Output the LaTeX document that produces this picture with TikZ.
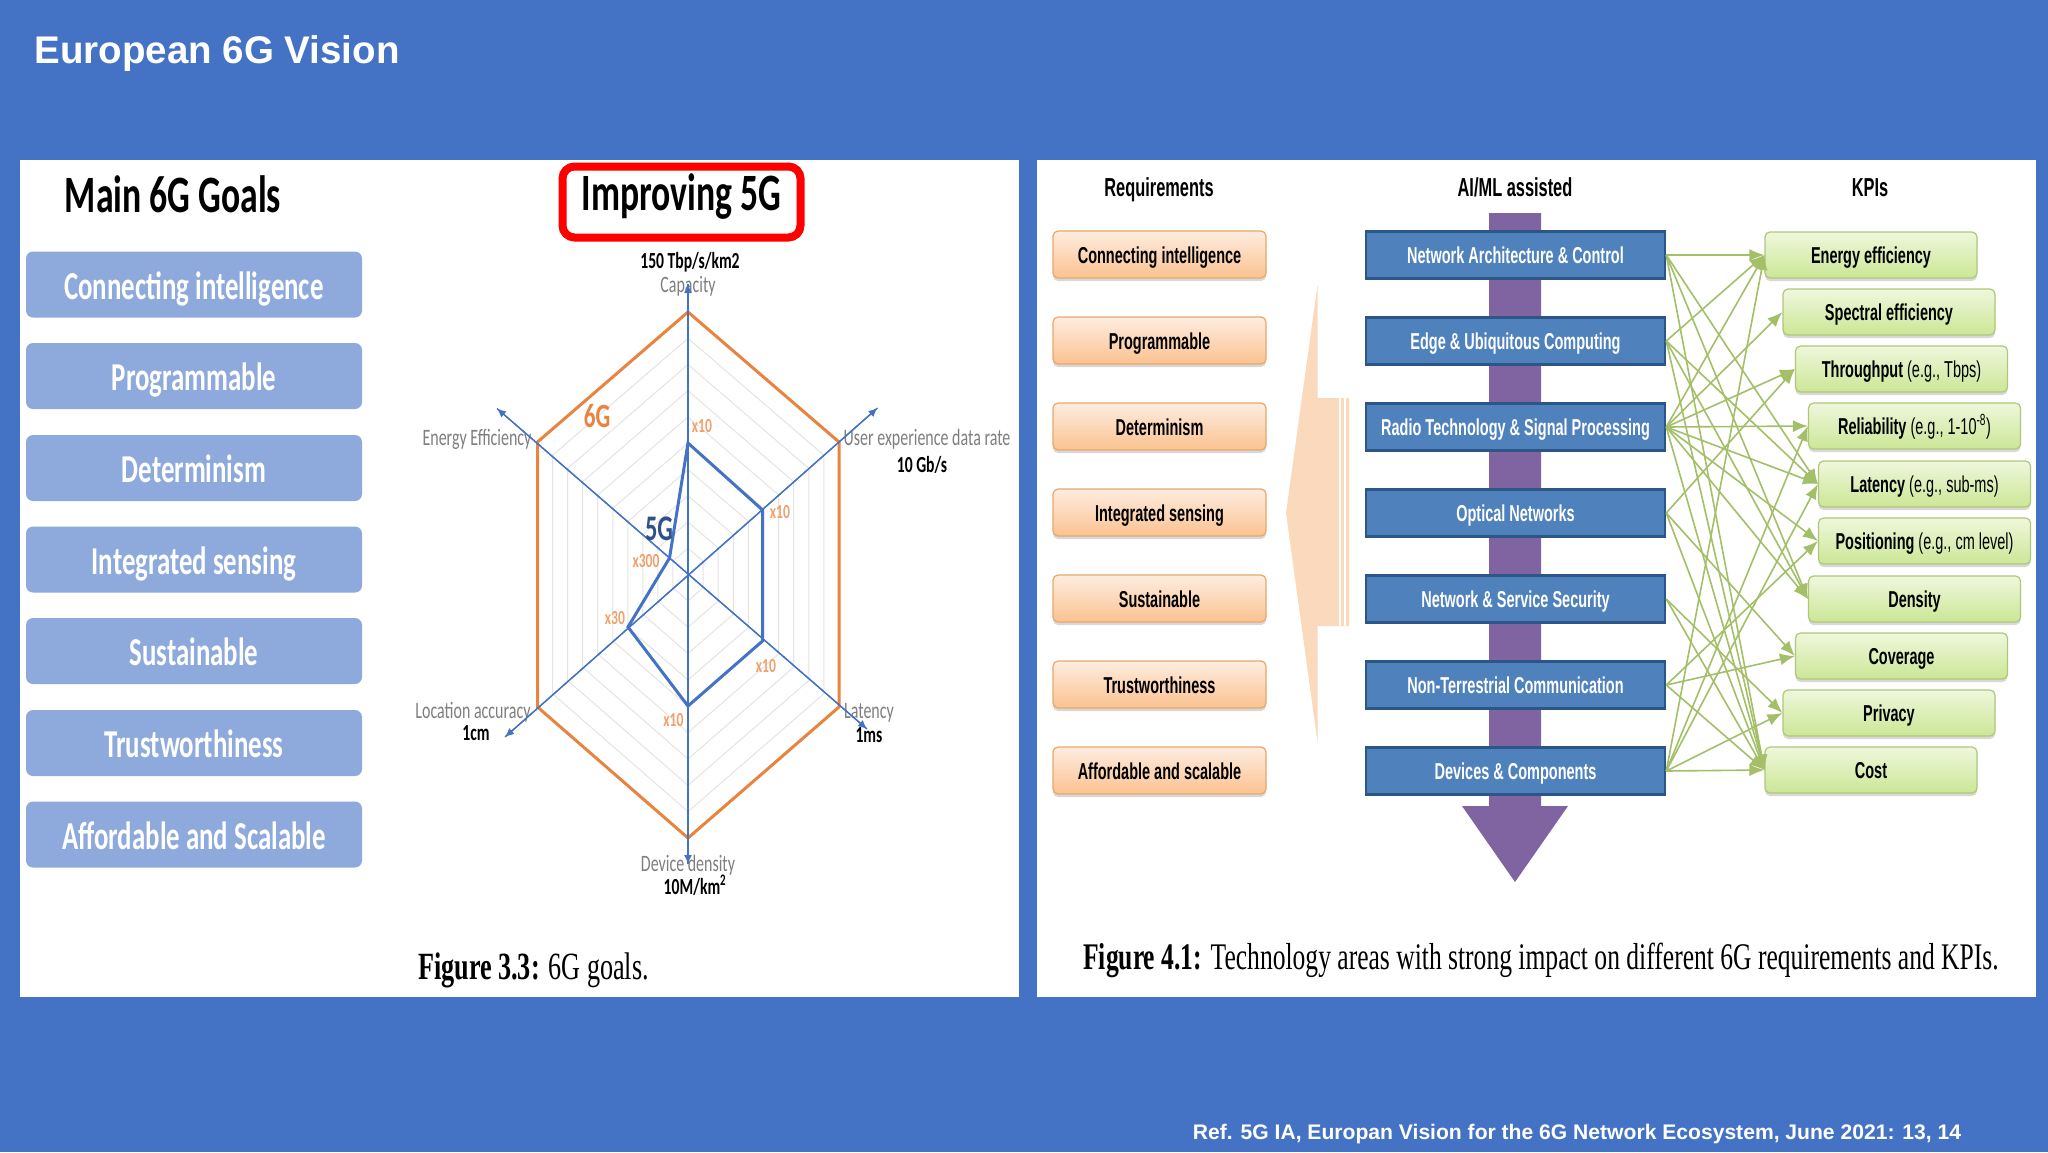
\documentclass[tikz,border=0pt]{standalone}
\usepackage{fontspec}
\usepackage{xcolor}
\usetikzlibrary{arrows.meta,shadows}

\setmainfont{Liberation Sans}
\newfontfamily\narrowfont[FakeStretch=0.63]{Liberation Sans}
\newfontfamily\goalfont[FakeStretch=0.68]{Carlito}
\newfontfamily\capfont[FakeStretch=0.68]{Liberation Serif}

\definecolor{slide}{HTML}{4472C4}
\definecolor{goalfill}{HTML}{8EA9DB}
\definecolor{sixg}{HTML}{E98340}
\definecolor{fiveg}{HTML}{4472C4}
\definecolor{axisgray}{HTML}{7F7F7F}
\definecolor{ringgray}{HTML}{E4E4E4}
\definecolor{factor}{HTML}{F0A26C}
\definecolor{techblue}{HTML}{4F81BD}
\definecolor{techline}{HTML}{2C5687}
\definecolor{stem}{HTML}{8064A2}
\definecolor{peach}{HTML}{FBD9BC}
\definecolor{linkgreen}{HTML}{A3BF68}
\definecolor{reqtop}{HTML}{FDEDE0}
\definecolor{reqbot}{HTML}{FBC290}
\definecolor{reqline}{HTML}{E8A868}
\definecolor{kpitop}{HTML}{EFF7DC}
\definecolor{kpibot}{HTML}{CBE796}
\definecolor{kpiline}{HTML}{AFC77A}

\tikzset{
	goalbox/.style={fill=goalfill, rounded corners=7pt, minimum width=336pt, minimum height=66pt, inner sep=0pt, text=white, text height=33pt, text depth=4pt, font=\goalfont\bfseries\fontsize{39.5}{43}\selectfont},
	reqbox/.style={draw=reqline, line width=1.2pt, top color=reqtop, bottom color=reqbot, rounded corners=5pt, minimum width=213pt, minimum height=47pt, inner sep=0pt, text height=20pt, text depth=3pt, drop shadow={shadow xshift=0pt, shadow yshift=-3pt, opacity=0.3}, font=\narrowfont\bfseries\fontsize{23}{26}\selectfont},
	techbox/.style={draw=techline, fill=techblue, line width=2.5pt, minimum width=299pt, minimum height=47pt, inner sep=0pt, text=white, text height=20pt, text depth=3pt, font=\narrowfont\bfseries\fontsize{23}{26}\selectfont},
	kpibox/.style={draw=kpiline, line width=1.2pt, top color=kpitop, bottom color=kpibot, rounded corners=5pt, minimum width=212pt, minimum height=46pt, inner sep=0pt, text height=20pt, text depth=3pt, drop shadow={shadow xshift=0pt, shadow yshift=-3pt, opacity=0.3}, font=\narrowfont\fontsize{23}{26}\selectfont},
	head/.style={inner sep=0pt, text height=23pt, text depth=3.5pt, font=\narrowfont\bfseries\fontsize{26}{30}\selectfont},
	axis/.style={fiveg, line width=1.3pt, -{Latex[length=9pt,width=8pt]}},
	axislabel/.style={inner sep=0pt, text=axisgray, text height=19pt, text depth=4pt, font=\goalfont\fontsize{23.5}{26}\selectfont},
	axisvalue/.style={inner sep=0pt, text height=19pt, text depth=4pt, font=\goalfont\bfseries\fontsize{23}{25}\selectfont},
	gain/.style={inner sep=0pt, text=factor, font=\goalfont\bfseries\fontsize{20}{22}\selectfont},
	link/.style={linkgreen, line width=1.6pt, -{Latex[length=15pt,width=12pt]}}
}

\begin{document}
\begin{tikzpicture}[x=1pt,y=-1pt]
	\useasboundingbox (0,0) rectangle (2048,1152);
	\fill[slide] (0,0) rectangle (2048,1152);
	\fill[white] (20,160) rectangle (1019,997);
	\fill[white] (1037,160) rectangle (2036,997);

	\node[inner sep=0pt, text=white, text height=31pt, text depth=4pt, font=\bfseries\fontsize{38.5}{42}\selectfont] (title) at (217,50) {European 6G Vision};
	\node[inner sep=0pt, text=white, text height=17.5pt, text depth=5pt, font=\bfseries\fontsize{21.1}{24}\selectfont] (ref) at (1577,1133) {Ref. 5G IA, Europan Vision for the 6G Network Ecosystem, June 2021: 13, 14};

	\node[inner sep=0pt, font=\goalfont\bfseries\fontsize{52.5}{56}\selectfont] (goals) at (173,194) {Main 6G Goals};
	\node[goalbox] (g1) at (194,284.5) {Connecting intelligence};
	\node[goalbox] (g2) at (194,376) {Programmable};
	\node[goalbox] (g3) at (194,468) {Determinism};
	\node[goalbox] (g4) at (194,559.5) {Integrated sensing};
	\node[goalbox] (g5) at (194,651) {Sustainable};
	\node[goalbox] (g6) at (194,743) {Trustworthiness};
	\node[goalbox] (g7) at (194,834.5) {Affordable and Scalable};

	\node[draw=red, line width=8pt, rounded corners=12pt, minimum width=238pt, minimum height=71pt, inner sep=0pt] (improve) at (681.5,202) {};
	\node[inner sep=0pt, font=\goalfont\bfseries\fontsize{52.5}{56}\selectfont] (improvetext) at (681.5,196.5) {Improving 5G};

	\foreach \r in {0.1,0.2,0.3,0.4,0.5,0.6,0.7,0.8,0.9} {
		\begin{scope}[shift={(688,574.5)},scale=\r]
			\draw[ringgray, line width=1pt] (0,-262.5) -- (151,-132.5) -- (151,132.5) -- (0,263.5) -- (-150.5,132.5) -- (-150.5,-132.5) -- cycle;
		\end{scope}
	}

	\node[axisvalue] (capval) at (690,261) {150 Tbp/s/km2};
	\node[axislabel] (cap) at (688,285) {Capacity};
	\node[axislabel] (user) at (927,438) {User experience data rate};
	\node[axisvalue] (userval) at (922,465) {10 Gb/s};
	\node[axislabel] (lat) at (869,711) {Latency};
	\node[axisvalue] (latval) at (869,735) {1ms};
	\node[axislabel] (dev) at (688,864) {Device density};
	\node[axisvalue] (devval) at (695,887) {10M/km\textsuperscript{2}};
	\node[axislabel] (loc) at (473,711) {Location accuracy};
	\node[axisvalue] (locval) at (476,733) {1cm};
	\node[axislabel] (ener) at (477,438) {Energy Efficiency};

	\coordinate (c) at (688,574.5);
	\coordinate (v1) at (688,312);
	\coordinate (v2) at (839,442);
	\coordinate (v3) at (839,707);
	\coordinate (v4) at (688,838);
	\coordinate (v5) at (537.5,707);
	\coordinate (v6) at (537.5,442);
	\coordinate (w1) at (688,443);
	\coordinate (w2) at (762.5,510);
	\coordinate (w3) at (762.5,641);
	\coordinate (w4) at (688,706);
	\coordinate (w5) at (628,627);
	\coordinate (w6) at (669.5,558);

	\draw[sixg, line width=3pt] (v1) -- (v2) -- (v3) -- (v4) -- (v5) -- (v6) -- cycle;

	\coordinate (a1) at (688,284);
	\coordinate (a2) at (877.5,408);
	\coordinate (a3) at (867,729);
	\coordinate (a4) at (688,864);
	\coordinate (a5) at (505,737);
	\coordinate (a6) at (497,408.5);
	\draw
		(a4) edge[axis] (a1)
		(a1) edge[axis] (a4)
		(a5) edge[axis] (a2)
		(a2) edge[axis] (a5)
		(a6) edge[axis] (a3)
		(a3) edge[axis] (a6)
	;
	\draw[fiveg, line width=3pt] (w1) -- (w2) -- (w3) -- (w4) -- (w5) -- (w6) -- cycle;

	\node[inner sep=0pt, text=sixg, font=\goalfont\bfseries\fontsize{34}{36}\selectfont] (six) at (597,416) {6G};
	\node[inner sep=0pt, text=fiveg!70!black, font=\goalfont\bfseries\fontsize{36}{38}\selectfont] (five) at (659,528.5) {5G};
	\node[gain] (x1) at (702,426.5) {x10};
	\node[gain] (x2) at (780,512) {x10};
	\node[gain] (x3) at (766,666) {x10};
	\node[gain] (x4) at (673.5,720) {x10};
	\node[gain] (x5) at (615,618) {x30};
	\node[gain] (x6) at (646,561) {x300};

	\node[inner sep=0pt, text height=25pt, text depth=8pt, font=\capfont\fontsize{38.5}{42}\selectfont] (capleft) at (533.5,971) {\textbf{Figure 3.3:} 6G goals.};
	\node[inner sep=0pt, text height=25pt, text depth=8pt, font=\capfont\fontsize{37.6}{42}\selectfont] (capright) at (1541,961) {\textbf{Figure 4.1:} Technology areas with strong impact on different 6G requirements and KPIs.};

	\node[head] (hreq) at (1159,187) {Requirements};
	\node[head] (haiml) at (1515,187) {AI/ML assisted};
	\node[head] (hkpi) at (1870,187) {KPIs};

	\fill[peach] (1349,398) -- (1317.5,398) -- (1317.5,285) -- (1286,513) -- (1317.5,742) -- (1317.5,626) -- (1349,626) -- cycle;
	\draw[white, line width=1.5pt] (1340,398) -- (1340,626);
	\draw[white, line width=1.5pt] (1345,398) -- (1345,626);

	\fill[stem] (1489,213) -- (1541,213) -- (1541,806) -- (1568,806) -- (1515,882) -- (1462,806) -- (1489,806) -- cycle;

	\node[reqbox] (r1) at (1159.5,254.5) {Connecting intelligence};
	\node[reqbox] (r2) at (1159.5,340.5) {Programmable};
	\node[reqbox] (r3) at (1159.5,426.5) {Determinism};
	\node[reqbox] (r4) at (1159.5,512.5) {Integrated sensing};
	\node[reqbox] (r5) at (1159.5,598.5) {Sustainable};
	\node[reqbox] (r6) at (1159.5,684.5) {Trustworthiness};
	\node[reqbox] (r7) at (1159.5,770.5) {Affordable and scalable};

	\node[techbox] (arch) at (1515.5,255) {Network Architecture \& Control};
	\node[techbox] (edgec) at (1515.5,341) {Edge \& Ubiquitous Computing};
	\node[techbox] (radio) at (1515.5,427) {Radio Technology \& Signal Processing};
	\node[techbox] (optic) at (1515.5,513) {Optical Networks};
	\node[techbox] (secur) at (1515.5,599) {Network \& Service Security};
	\node[techbox] (ntn) at (1515.5,685) {Non-Terrestrial Communication};
	\node[techbox] (devic) at (1515.5,771) {Devices \& Components};

	\node[kpibox] (energy) at (1871,255) {\textbf{Energy efficiency}};
	\node[kpibox] (spect) at (1889,312) {\textbf{Spectral efficiency}};
	\node[kpibox] (thru) at (1901.5,369) {\textbf{Throughput} (e.g., Tbps)};
	\node[kpibox] (relia) at (1914.5,426) {\textbf{Reliability} (e.g., 1-10\textsuperscript{-8})};
	\node[kpibox] (laten) at (1924.5,484) {\textbf{Latency} (e.g., sub-ms)};
	\node[kpibox] (posit) at (1924.5,541) {\textbf{Positioning} (e.g., cm level)};
	\node[kpibox] (densi) at (1914.5,599) {\textbf{Density}};
	\node[kpibox] (cover) at (1901.5,656) {\textbf{Coverage}};
	\node[kpibox] (priva) at (1889,713) {\textbf{Privacy}};
	\node[kpibox] (cost) at (1871,770) {\textbf{Cost}};

	\draw
		(arch.east) edge[link] (energy.west)
		(arch.east) edge[link] (laten.west)
		(arch.east) edge[link] (densi.west)
		(arch.east) edge[link] (cost.west)
		(edgec.east) edge[link] (energy.west)
		(edgec.east) edge[link] (laten.west)
		(edgec.east) edge[link] (densi.west)
		(edgec.east) edge[link] (cost.west)
		(radio.east) edge[link] (energy.west)
		(radio.east) edge[link] (spect.west)
		(radio.east) edge[link] (thru.west)
		(radio.east) edge[link] (relia.west)
		(radio.east) edge[link] (laten.west)
		(radio.east) edge[link] (posit.west)
		(radio.east) edge[link] (densi.west)
		(radio.east) edge[link] (cost.west)
		(optic.east) edge[link] (thru.west)
		(optic.east) edge[link] (cover.west)
		(optic.east) edge[link] (cost.west)
		(secur.east) edge[link] (priva.west)
		(secur.east) edge[link] (cost.west)
		(ntn.east) edge[link] (posit.west)
		(ntn.east) edge[link] (cover.west)
		(ntn.east) edge[link] (cost.west)
		(devic.east) edge[link] (energy.west)
		(devic.east) edge[link] (relia.west)
		(devic.east) edge[link] (laten.west)
		(devic.east) edge[link] (priva.west)
		(devic.east) edge[link] (cost.west)
	;
\end{tikzpicture}
\end{document}
